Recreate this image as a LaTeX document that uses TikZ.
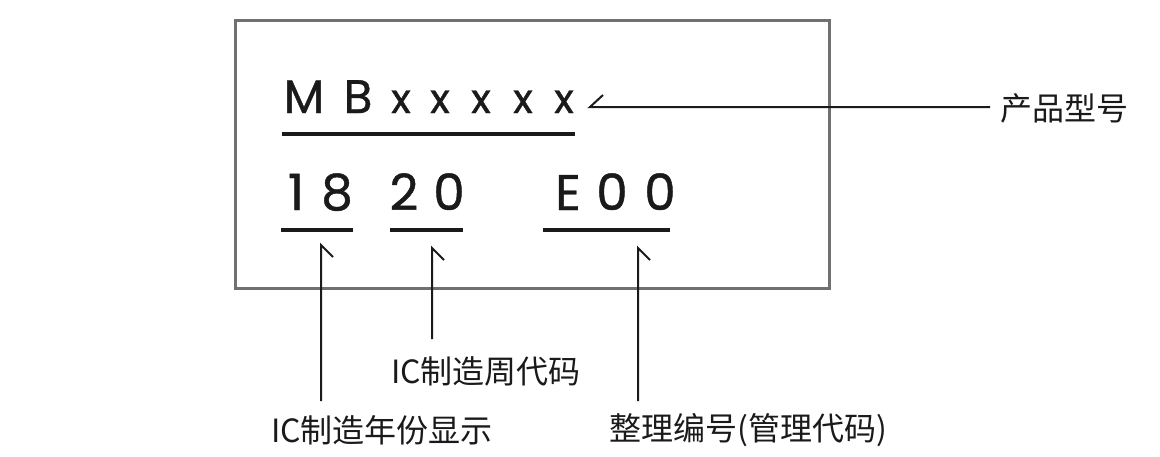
\documentclass[tikz,border=0pt]{standalone}
\usepackage{fontspec}
\usetikzlibrary{calc}
\setmainfont{Poppins}[FakeBold=0.9]
\newfontfamily\cjk{Noto Sans CJK SC}
\definecolor{boxgray}{HTML}{707070}
\definecolor{ink}{HTML}{1A1A1A}
\begin{document}
\begin{tikzpicture}[x=1pt,y=-1pt,
  ch/.style={inner sep=0pt,anchor=base,text=ink,font=\fontsize{47}{47}\selectfont},
  xch/.style={ch,font=\fontsize{41}{41}\selectfont},
  dg/.style={ch,font=\fontsize{50}{50}\selectfont},
  uline/.style={line width=3.5pt,ink},
  conn/.style={line width=2pt,ink,line cap=butt,line join=miter},
  lab/.style={inner sep=0pt,text=ink,font=\cjk\fontsize{32}{32}\selectfont}]
\useasboundingbox (0,0) rectangle (1160,456);
% frame
\draw[boxgray,line width=3pt] (235,20) rectangle (829,288);
% model line
\node[ch] (cM) at (304,113) {M};
\node[ch] (cB) at (358,113) {B};
\node[xch] (x1) at (401,113) {x};
\node[xch] (x2) at (440,113) {x};
\node[xch] (x3) at (481,113) {x};
\node[xch] (x4) at (523,113) {x};
\node[xch] (x5) at (564,113) {x};
\draw[uline] (282,134) -- (575,134);
% code line
\node[dg] (d1) at (296,210) {1};
\node[dg] (d2) at (337,210) {8};
\node[dg] (d3) at (404,210) {2};
\node[dg] (d4) at (449,210) {0};
\node[dg] (d5) at (568,210) {E};
\node[dg] (d6) at (612,210) {0};
\node[dg] (d7) at (660,210) {0};
\draw[uline] (281,230) -- (353,230);
\draw[uline] (390,230) -- (463,230);
\draw[uline] (543,230) -- (670,230);
% labels
\node[lab,anchor=west] (lmodel) at (1000,108) {产品型号};
\node[lab] (lweek) at (486,371) {IC制造周代码};
\node[lab] (lyear) at (382,430) {IC制造年份显示};
\node[lab] (lcode) at (748,430) {整理编号(管理代码)};
% connector ends
\coordinate (tm) at (590,107);
\coordinate (em) at (990,107);
\coordinate (t1) at (321,245);
\coordinate (e1) at (321,401);
\coordinate (t2) at (432,248);
\coordinate (e2) at (432,339);
\coordinate (t3) at (638,248);
\coordinate (e3) at (638,401);
% connectors (one-sided barbs)
\draw[conn] ($(tm)+(13,-12)$) -- (tm) -- (em);
\draw[conn] ($(t1)+(12,12)$) -- (t1) -- (e1);
\draw[conn] ($(t2)+(12,12)$) -- (t2) -- (e2);
\draw[conn] ($(t3)+(12,12)$) -- (t3) -- (e3);
\end{tikzpicture}
\end{document}
